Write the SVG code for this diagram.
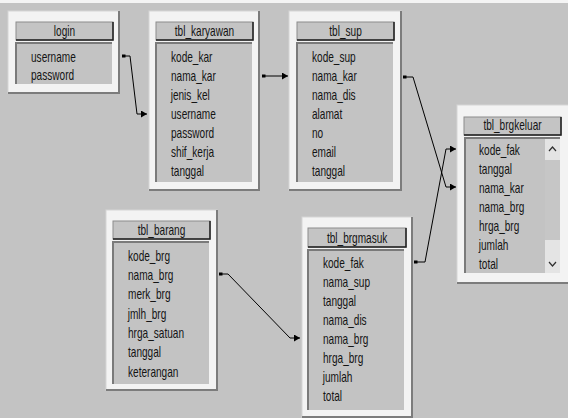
<svg xmlns="http://www.w3.org/2000/svg" width="568" height="418" viewBox="0 0 568 418">
<style>
.bg{fill:#c3c3c3}
.outer{fill:#f3f3f3;stroke:#d6d6d6;stroke-width:1}
.shadow{fill:none;stroke:#7c7c7c;stroke-width:2}
.title{fill:#c4c4c4;stroke:#8c8c8c;stroke-width:1}
.tdark{fill:none;stroke:#1e1e1e;stroke-width:1.5}
.fields{fill:#c3c3c3}
.sunk{fill:none;stroke:#7a7a7a;stroke-width:2}
.f,.h{font-family:"Liberation Sans",Arial,sans-serif;font-size:14px;fill:#141414;transform-box:fill-box;transform:scaleX(0.72)}
.f{transform-origin:left center}
.h{text-anchor:middle;transform-origin:center}
.conn{fill:none;stroke:#000;stroke-width:1}
.chev{fill:none;stroke:#303030;stroke-width:1.2}
</style>
<defs>
<marker id="arr" markerUnits="userSpaceOnUse" markerWidth="7" markerHeight="7" refX="6" refY="3.5" orient="auto">
<path d="M0,0 L6,3.5 L0,7 z" fill="#000"/>
</marker>
<marker id="sq" markerUnits="userSpaceOnUse" markerWidth="5" markerHeight="4" refX="0.5" refY="2" orient="auto">
<rect x="0" y="0.5" width="4" height="3" fill="#000"/>
</marker>
</defs>
<rect class="bg" x="0" y="0" width="568" height="418"/>
<rect x="0" y="0" width="568" height="3" fill="#f4f4f4"/>

<g id="login">
<rect class="outer" x="8" y="11" width="111" height="82"/>
<polyline class="shadow" points="119,11 119,93 8,93"/>
<rect class="title" x="16" y="22" width="97" height="18"/>
<polyline class="tdark" points="113,22 113,40 16,40"/>
<rect class="fields" x="16" y="43" width="96" height="41"/>
<polyline class="sunk" points="16,84 16,43 112,43"/>
<text class="h" x="64.5" y="36">login</text>
<text class="f" x="31" y="62">username</text>
<text class="f" x="31" y="80">password</text>
</g>

<g id="tbl_karyawan">
<rect class="outer" x="149" y="11" width="110" height="179"/>
<polyline class="shadow" points="259,11 259,190 149,190"/>
<rect class="title" x="156" y="22" width="97" height="18"/>
<polyline class="tdark" points="253,22 253,40 156,40"/>
<rect class="fields" x="156" y="43" width="96" height="139"/>
<polyline class="sunk" points="156,182 156,43 252,43"/>
<text class="h" x="204.5" y="36">tbl_karyawan</text>
<text class="f" x="171" y="62">kode_kar</text>
<text class="f" x="171" y="81">nama_kar</text>
<text class="f" x="171" y="100">jenis_kel</text>
<text class="f" x="171" y="119">username</text>
<text class="f" x="171" y="138">password</text>
<text class="f" x="171" y="157">shif_kerja</text>
<text class="f" x="171" y="176">tanggal</text>
</g>

<g id="tbl_sup">
<rect class="outer" x="289" y="11" width="112" height="179"/>
<polyline class="shadow" points="401,11 401,190 289,190"/>
<rect class="title" x="297" y="22" width="97" height="18"/>
<polyline class="tdark" points="394,22 394,40 297,40"/>
<rect class="fields" x="297" y="43" width="96" height="139"/>
<polyline class="sunk" points="297,182 297,43 393,43"/>
<text class="h" x="345.5" y="36">tbl_sup</text>
<text class="f" x="312" y="62">kode_sup</text>
<text class="f" x="312" y="81">nama_kar</text>
<text class="f" x="312" y="100">nama_dis</text>
<text class="f" x="312" y="119">alamat</text>
<text class="f" x="312" y="138">no</text>
<text class="f" x="312" y="157">email</text>
<text class="f" x="312" y="176">tanggal</text>
</g>

<g id="tbl_brgkeluar">
<rect class="outer" x="457" y="105" width="112" height="178"/>
<polyline class="shadow" points="457,283 569,283"/>
<rect class="title" x="464" y="117" width="97" height="18"/>
<polyline class="tdark" points="561,117 561,135 464,135"/>
<rect class="fields" x="465" y="138" width="95" height="135"/>
<rect x="545" y="138" width="15" height="135" fill="#e4e4e4"/>
<rect x="545" y="160" width="15" height="80" fill="#c6c6c6"/>
<polyline class="chev" points="549,151 552.5,147 556,151"/>
<polyline class="chev" points="549,262 552.5,266 556,262"/>
<polyline class="sunk" points="465,273 465,138 560,138"/>
<text class="h" x="512.5" y="130">tbl_brgkeluar</text>
<text class="f" x="479" y="155">kode_fak</text>
<text class="f" x="479" y="174">tanggal</text>
<text class="f" x="479" y="193">nama_kar</text>
<text class="f" x="479" y="212">nama_brg</text>
<text class="f" x="479" y="231">hrga_brg</text>
<text class="f" x="479" y="250">jumlah</text>
<text class="f" x="479" y="269">total</text>
</g>

<g id="tbl_brgmasuk">
<rect class="outer" x="302" y="217" width="110" height="200"/>
<polyline class="shadow" points="412,217 412,417 302,417"/>
<rect class="title" x="308" y="228" width="98" height="19"/>
<polyline class="tdark" points="406,228 406,247 308,247"/>
<rect class="fields" x="308" y="250" width="96" height="160"/>
<polyline class="sunk" points="308,410 308,250 404,250"/>
<text class="h" x="357" y="243">tbl_brgmasuk</text>
<text class="f" x="323" y="268">kode_fak</text>
<text class="f" x="323" y="287">nama_sup</text>
<text class="f" x="323" y="306">tanggal</text>
<text class="f" x="323" y="325">nama_dis</text>
<text class="f" x="323" y="344">nama_brg</text>
<text class="f" x="323" y="363">hrga_brg</text>
<text class="f" x="323" y="382">jumlah</text>
<text class="f" x="323" y="401">total</text>
</g>

<g id="tbl_barang">
<rect class="outer" x="106" y="210" width="111" height="180"/>
<polyline class="shadow" points="217,210 217,390 106,390"/>
<rect class="title" x="113" y="221" width="97" height="18"/>
<polyline class="tdark" points="210,221 210,239 113,239"/>
<rect class="fields" x="113" y="242" width="96" height="142"/>
<polyline class="sunk" points="113,384 113,242 209,242"/>
<text class="h" x="161.5" y="235">tbl_barang</text>
<text class="f" x="128" y="261">kode_brg</text>
<text class="f" x="128" y="280">nama_brg</text>
<text class="f" x="128" y="299">merk_brg</text>
<text class="f" x="128" y="319">jmlh_brg</text>
<text class="f" x="128" y="338">hrga_satuan</text>
<text class="f" x="128" y="357">tanggal</text>
<text class="f" x="128" y="377">keterangan</text>
</g>

<g id="connectors">
<path class="conn" d="M122,56 H130 L137,114 H147" marker-start="url(#sq)" marker-end="url(#arr)"/>
<path class="conn" d="M262,76 H288" marker-start="url(#sq)" marker-end="url(#arr)"/>
<path class="conn" d="M403,77 H413 L446,187 H456" marker-start="url(#sq)" marker-end="url(#arr)"/>
<path class="conn" d="M414,262 H425 L446,149 H456" marker-start="url(#sq)" marker-end="url(#arr)"/>
<path class="conn" d="M219,274 H228 L290,338 H300" marker-start="url(#sq)" marker-end="url(#arr)"/>
</g>
</svg>
